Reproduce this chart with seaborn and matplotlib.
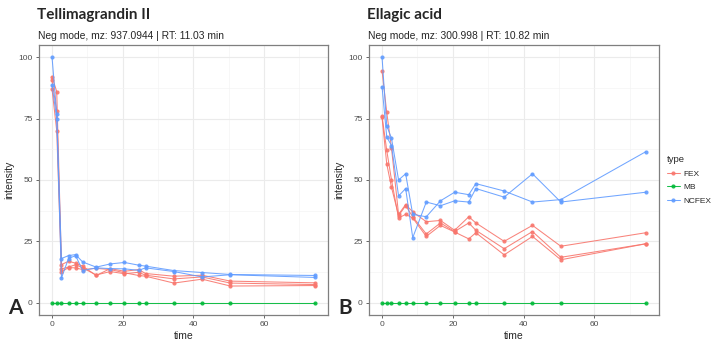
import numpy as np
import pandas as pd
import matplotlib
matplotlib.use("Agg")
import matplotlib.pyplot as plt
import seaborn as sns
from matplotlib.ticker import MultipleLocator

# sampling times (same for every replicate)
times = [0, 1.33, 2.67, 4.67, 6.67, 8.67, 12.5, 16.5, 20.5, 24.5, 26.5, 34.5, 42.5, 50.5, 74.5]

# Tellimagrandin II
tg_fex1 = [92, 86, 15.5, 16.9, 16.1, 14.9, 11.1, 13.9, 12.8, 13.5, 11.9, 10.8, 11.2, 8.8, 8.1]
tg_fex2 = [90.5, 78, 13.8, 14.5, 15.5, 14.2, 11.3, 12.7, 11.8, 12.4, 11.2, 9.7, 10.5, 8.0, 7.4]
tg_fex3 = [87, 70, 12.6, 14.3, 14.2, 13.5, 14.0, 13.5, 12.2, 11.1, 10.8, 8.0, 9.6, 6.8, 7.0]
tg_ncfex1 = [100, 77, 18, 19.2, 19.6, 16.6, 14.5, 15.8, 16.4, 15.3, 14.9, 13.1, 12.3, 11.5, 11.1]
tg_ncfex2 = [88.5, 75, 10.1, 18, 19.2, 13.1, 14.2, 13.9, 13.8, 13.2, 14.2, 12.7, 10.5, 11.4, 10.3]

# Ellagic acid
ea_fex1 = [94.5, 77.5, 63, 36, 40, 37, 33, 33.5, 29.5, 35, 32.5, 25, 31.5, 23, 28.5]
ea_fex2 = [75.5, 56.5, 47, 35.5, 39.5, 35, 28, 32.5, 29, 32.5, 29.5, 22, 29, 18.5, 24]
ea_fex3 = [76, 62, 50, 34.5, 36, 34.5, 27, 31.5, 28.8, 26, 28.5, 19.5, 27, 17.5, 24]
ea_ncfex1 = [100, 72, 67, 50, 52.5, 36, 35, 41.5, 45, 44, 48.5, 45.5, 41, 42, 61.5]
ea_ncfex2 = [88, 67.5, 64, 43.5, 46.5, 26.5, 41, 39.5, 41.5, 41, 46.5, 43, 52.5, 41, 45]

mb = [0] * len(times)

type_names = ["FEX", "MB", "NCFEX"]
palette = {"FEX": "#F8766D", "MB": "#00BA38", "NCFEX": "#619CFF"}


def make_df(fex, ncfex):
    rows = []
    for i, s in enumerate(fex):
        for t, v in zip(times, s):
            rows.append(("FEX", "FEX%d" % i, t, v))
    for t, v in zip(times, mb):
        rows.append(("MB", "MB0", t, v))
    for i, s in enumerate(ncfex):
        for t, v in zip(times, s):
            rows.append(("NCFEX", "NC%d" % i, t, v))
    return pd.DataFrame(rows, columns=["type", "rep", "time", "intensity"])


df_tg = make_df([tg_fex1, tg_fex2, tg_fex3], [tg_ncfex1, tg_ncfex2])
df_ea = make_df([ea_fex1, ea_fex2, ea_fex3], [ea_ncfex1, ea_ncfex2])

sns.set_style("white")
plt.rcParams['font.family'] = ['Liberation Sans', 'DejaVu Sans']

fig = plt.figure(figsize=(7.15, 3.4), dpi=100)
ax1 = fig.add_axes([0.0545, 0.0735, 0.4045, 0.7945])
ax2 = fig.add_axes([0.516, 0.0735, 0.4055, 0.7945])

panels = [(ax1, df_tg, "Tellimagrandin II", "Neg mode, mz: 937.0944 | RT: 11.03 min", "A", 0.011),
          (ax2, df_ea, "Ellagic acid", "Neg mode, mz: 300.998 | RT: 10.82 min", "B", 0.473)]

for ax, d, name, sub, letter, lx in panels:
    sns.lineplot(data=d, x="time", y="intensity", hue="type", units="rep", estimator=None,
                 hue_order=type_names, palette=palette, marker="o", markersize=3.0,
                 markeredgewidth=0, linewidth=0.75, alpha=0.9, ax=ax, legend=(ax is ax2))
    ax.set_xlim(-3.7, 78.2)
    ax.set_ylim(-5, 105)
    ax.xaxis.set_major_locator(MultipleLocator(20))
    ax.xaxis.set_minor_locator(MultipleLocator(10))
    ax.yaxis.set_major_locator(MultipleLocator(25))
    ax.yaxis.set_minor_locator(MultipleLocator(12.5))
    ax.grid(which="major", color="#EBEBEB", linewidth=0.8)
    ax.grid(which="minor", color="#F4F4F4", linewidth=0.5)
    ax.set_axisbelow(True)
    for sp in ax.spines.values():
        sp.set_color("#7F7F7F")
        sp.set_linewidth(0.9)
    ax.tick_params(axis="both", which="major", labelsize=6, colors="#4D4D4D",
                   length=2.5, width=0.6, pad=2, left=True, bottom=True)
    ax.tick_params(axis="both", which="minor", length=0)
    ax.set_xlabel("time", fontsize=7.5, labelpad=2)
    ax.set_ylabel("intensity", fontsize=7.5, labelpad=3)
    pos = ax.get_position()
    fig.text(pos.x0 - 0.001, 0.88, sub, fontsize=7.4, ha="left", va="bottom")
    fig.text(pos.x0 - 0.003, 0.935, name, fontsize=11, fontweight="bold",
             family=["Lato", "DejaVu Sans"], ha="left", va="bottom")
    fig.text(lx, 0.065, letter, fontsize=15, fontweight="bold",
             family=["Lato", "DejaVu Sans"], ha="left", va="bottom")

leg = ax2.legend(title="type", loc="center left", bbox_to_anchor=(1.0, 0.5),
                 frameon=False, fontsize=6, title_fontsize=6.8, handlelength=1.5,
                 handletextpad=0.5, labelspacing=0.7, borderaxespad=0.6)
leg._legend_box.align = "left"

fig.savefig("out.png", dpi=100)
